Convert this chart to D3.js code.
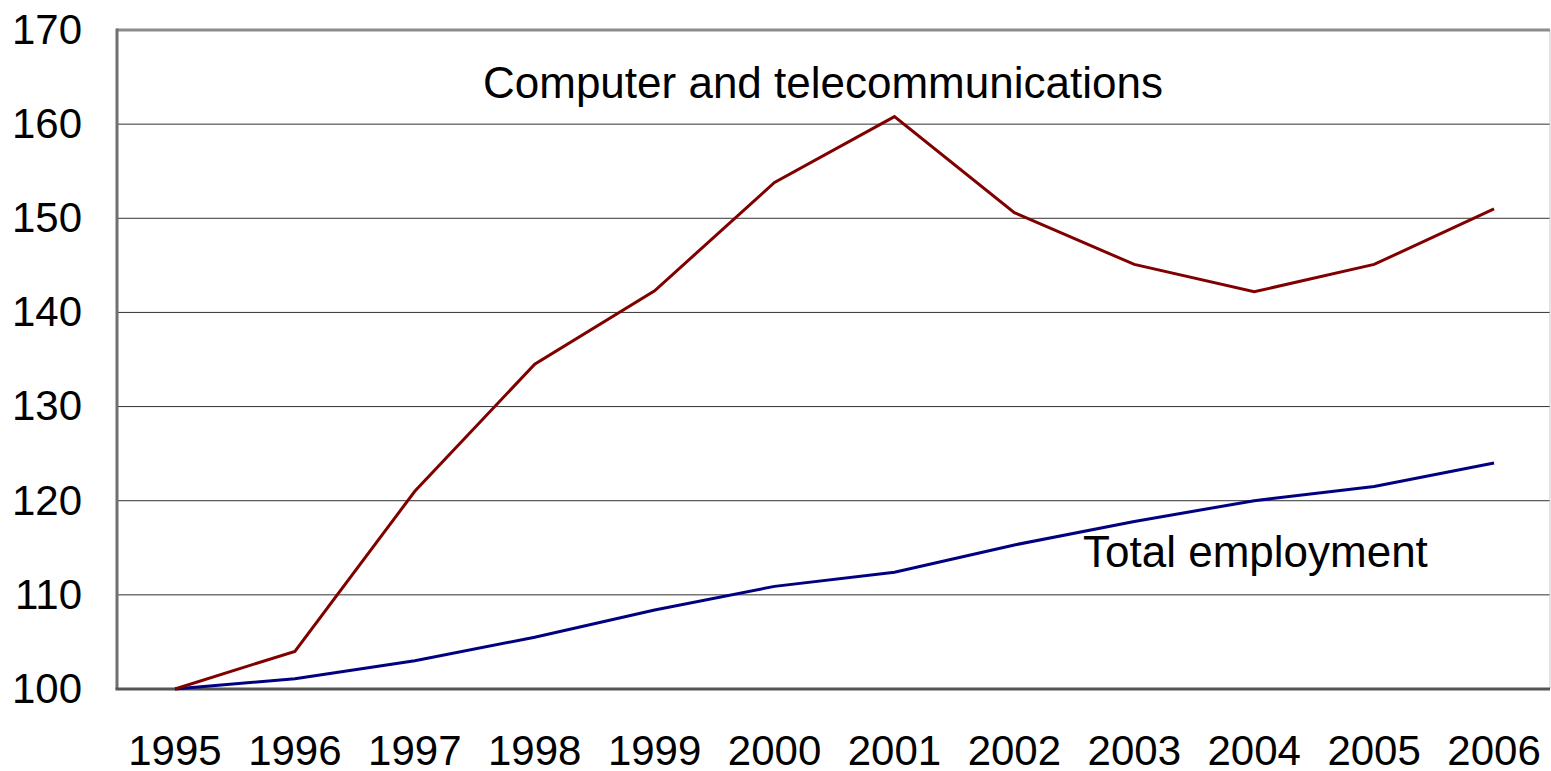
<!DOCTYPE html>
<html>
<head>
<meta charset="utf-8">
<script src="https://cdn.jsdelivr.net/npm/d3@7"></script>
<style>
	body { margin: 0; background: #fff; }
	text { font-family: "Liberation Sans", Arial, sans-serif; }
</style>
</head>
<body>
<script>
//chart values
let years = ["1995", "1996", "1997", "1998", "1999", "2000", "2001", "2002", "2003", "2004", "2005", "2006"];
let computerTelecom = [100, 104, 121, 134.5, 142.3, 153.8, 160.8, 150.6, 145.1, 142.2, 145.1, 151];
let totalEmployment = [100, 101.1, 103, 105.5, 108.4, 110.9, 112.4, 115.3, 117.8, 120, 121.5, 124];
let yTicks = [100, 110, 120, 130, 140, 150, 160, 170];

let svg = d3.select("body").append("svg")
	.attr("width", 1551)
	.attr("height", 771);

let margin = { top: 30, right: 1, bottom: 82, left: 117 };
let width = +svg.attr("width");
let height = +svg.attr("height");
let innerWidth = width - margin.left - margin.right;
let innerHeight = height - margin.top - margin.bottom;

let x = d3.scalePoint()
	.domain(years)
	.range([-2, innerWidth + 4])
	.padding(0.5);

let y = d3.scaleLinear()
	.domain([100, 170])
	.range([innerHeight, 0]);

let g = svg.append("g")
	.attr("transform", `translate(${margin.left}, ${margin.top})`);

//horizontal gridlines
g.selectAll(".grid")
	.data(yTicks.filter(d => d > 100 && d < 170))
	.enter().append("line")
	.attr("x1", 0)
	.attr("x2", innerWidth)
	.attr("y1", d => y(d))
	.attr("y2", d => y(d))
	.attr("stroke", "#333")
	.attr("stroke-width", 1);

//frame: gray left and top, thin light right, dark bottom
g.append("line").attr("x1", innerWidth).attr("x2", innerWidth).attr("y1", 0).attr("y2", innerHeight)
	.attr("stroke", "#c8c8c8").attr("stroke-width", 1);
g.append("line").attr("x1", 0).attr("x2", innerWidth).attr("y1", 0).attr("y2", 0)
	.attr("stroke", "#8c8c8c").attr("stroke-width", 3);
g.append("line").attr("x1", 0).attr("x2", 0).attr("y1", -1.5).attr("y2", innerHeight)
	.attr("stroke", "#707070").attr("stroke-width", 3);
g.append("line").attr("x1", -1.5).attr("x2", innerWidth).attr("y1", innerHeight).attr("y2", innerHeight)
	.attr("stroke", "#555").attr("stroke-width", 3);

//y axis labels
g.selectAll(".ylab")
	.data(yTicks)
	.enter().append("text")
	.attr("x", -35)
	.attr("y", d => y(d))
	.attr("dy", "0.33em")
	.attr("text-anchor", "end")
	.attr("font-size", 42)
	.attr("fill", "#000")
	.text(d => d);

//x axis labels
g.selectAll(".xlab")
	.data(years)
	.enter().append("text")
	.attr("x", d => x(d))
	.attr("y", innerHeight + 76)
	.attr("text-anchor", "middle")
	.attr("font-size", 42)
	.attr("fill", "#000")
	.text(d => d);

let line = d3.line()
	.x((d, i) => x(years[i]))
	.y(d => y(d));

g.append("path")
	.datum(totalEmployment)
	.attr("d", line)
	.attr("fill", "none")
	.attr("stroke", "#000080")
	.attr("stroke-width", 3);

g.append("path")
	.datum(computerTelecom)
	.attr("d", line)
	.attr("fill", "none")
	.attr("stroke", "#800000")
	.attr("stroke-width", 3);

//series labels
svg.append("text")
	.attr("x", 483)
	.attr("y", 98)
	.attr("font-size", 44)
	.attr("fill", "#000")
	.text("Computer and telecommunications");

svg.append("text")
	.attr("x", 1083)
	.attr("y", 567)
	.attr("font-size", 44)
	.attr("fill", "#000")
	.text("Total employment");
</script>
</body>
</html>
